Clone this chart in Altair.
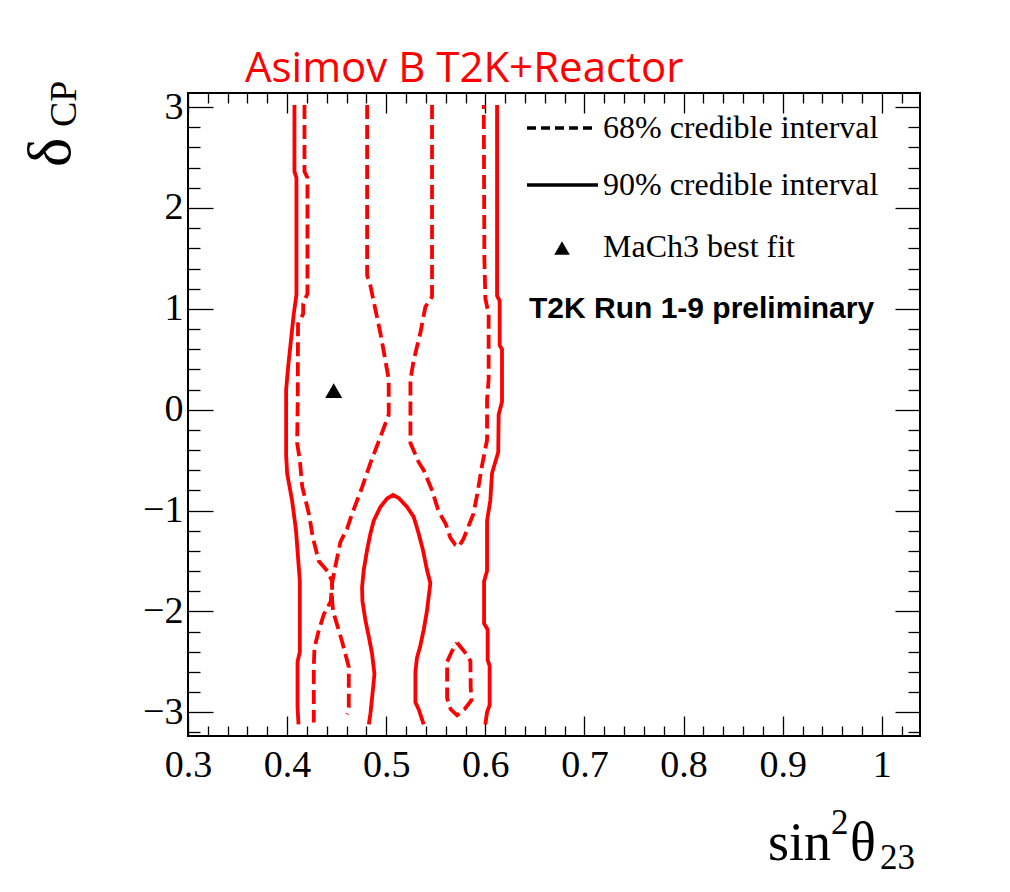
import altair as alt
import pandas as pd

# ---------------- data ----------------
# 90% credible interval contours (solid)
s90_left_x = [0.4074, 0.4074, 0.4094, 0.4094, 0.4067, 0.4040, 0.4013, 0.3990, 0.3990, 0.4000,
              0.4050, 0.4090, 0.4128, 0.4128, 0.4105, 0.4105, 0.4115]
s90_left_y = [3.02, 2.36, 2.30, 1.14, 0.95, 0.70, 0.45, 0.20, -0.45, -0.63,
              -0.90, -1.20, -1.70, -2.40, -2.50, -2.95, -3.12]

s90_right_x = [0.6118, 0.6118, 0.6144, 0.6144, 0.6168, 0.6168, 0.6134, 0.6130, 0.6067, 0.6050,
               0.6017, 0.6017, 0.5987, 0.5987, 0.6023, 0.6023, 0.6043, 0.6043, 0.6017, 0.6000]
s90_right_y = [3.02, 1.13, 1.08, 0.64, 0.60, 0.08, -0.05, -0.42, -0.63, -0.90,
               -1.10, -1.60, -1.70, -2.12, -2.18, -2.48, -2.54, -2.93, -3.00, -3.12]

s90_island_x = [0.4824, 0.4841, 0.4868, 0.4881, 0.4857, 0.4824, 0.4790, 0.4760, 0.4756, 0.4773,
                0.4807, 0.4840, 0.4874, 0.4941, 0.5009, 0.5069, 0.5126, 0.5210, 0.5277, 0.5327,
                0.5371, 0.5412, 0.5445, 0.5410, 0.5378, 0.5344, 0.5310, 0.5294, 0.5294, 0.5327,
                0.5378]
s90_island_y = [-3.12, -3.01, -2.75, -2.62, -2.42, -2.25, -2.09, -1.90, -1.76, -1.59,
                -1.39, -1.23, -1.10, -0.964, -0.881, -0.845, -0.875, -0.964, -1.063, -1.228,
                -1.394, -1.592, -1.72, -2.00, -2.18, -2.34, -2.46, -2.60, -2.90, -2.97,
                -3.12]

# 68% credible interval contours (dashed)
d68_a_x = [0.4175, 0.4175, 0.4205, 0.4205, 0.4162, 0.4162, 0.4110, 0.4107, 0.4101, 0.4128,
           0.4152, 0.4219, 0.4260, 0.4319, 0.4407, 0.4454, 0.4454, 0.4464, 0.4555, 0.4622,
           0.4622, 0.4605]
d68_a_y = [3.02, 2.36, 2.30, 1.15, 1.05, 0.95, 0.85, 0.10, -0.33, -0.50,
           -0.76, -1.03, -1.27, -1.50, -1.60, -1.70, -1.89, -2.00, -2.30, -2.55,
           -2.95, -3.02]

d68_b_x = [0.4807, 0.4807, 0.4840, 0.4891, 0.4941, 0.4991, 0.5025, 0.5025, 0.4941, 0.4840,
           0.4756, 0.4656, 0.4605, 0.4538, 0.4487, 0.4454, 0.4440, 0.4370, 0.4319, 0.4276,
           0.4269, 0.4269]
d68_b_y = [3.02, 1.33, 1.23, 0.99, 0.76, 0.49, 0.30, -0.05, -0.27, -0.53,
           -0.77, -1.03, -1.18, -1.31, -1.55, -1.72, -1.90, -2.03, -2.19, -2.36,
           -2.55, -3.10]

d68_c_x = [0.5462, 0.5462, 0.5395, 0.5344, 0.5277, 0.5244, 0.5244, 0.5327, 0.5378, 0.5462,
           0.5529, 0.5600, 0.5647, 0.5697, 0.5730, 0.5780, 0.5880, 0.5916, 0.5967, 0.6017,
           0.6017, 0.6033, 0.6033, 0.6000, 0.5990, 0.5984]
d68_c_y = [3.02, 1.12, 1.02, 0.76, 0.49, 0.30, -0.33, -0.52, -0.60, -0.80,
           -1.01, -1.13, -1.27, -1.34, -1.36, -1.28, -1.03, -0.85, -0.55, -0.30,
           0.10, 0.30, 0.95, 1.10, 1.50, 3.02]

d68_d_x = [0.5715, 0.5790, 0.5849, 0.5852, 0.5860, 0.5790, 0.5715, 0.5650, 0.5614, 0.5614,
           0.5660, 0.5715]
d68_d_y = [-2.31, -2.40, -2.49, -2.75, -2.88, -2.97, -3.03, -2.97, -2.86, -2.50,
           -2.40, -2.31]

best_fit_x = [0.447]
best_fit_y = [0.19]

# axis ticks / labels
x_label_values = [0.3, 0.4, 0.5, 0.6, 0.7, 0.8, 0.9, 1.0]
y_label_values = [-3, -2, -1, 0, 1, 2, 3]
x_tick_values = [round(0.30 + 0.02 * i, 2) for i in range(37)]
y_tick_values = [round(-3.2 + 0.2 * i, 1) for i in range(32)]

X_DOMAIN = [0.3, 1.0385]
Y_DOMAIN = [-3.235, 3.14]

# ---------------- layout ----------------
W, H = 732, 643
PAD = {"left": 180, "top": 85, "right": 70, "bottom": 140}
RED = "#ff0000"
SERIF = "Liberation Serif"


def paths_df(paths):
    rows = []
    for pid, (xs, ys) in enumerate(paths):
        for i, (x, y) in enumerate(zip(xs, ys)):
            rows.append({"pid": pid, "i": i, "x": x, "y": y})
    return pd.DataFrame(rows)


df90 = paths_df([(s90_left_x, s90_left_y), (s90_right_x, s90_right_y),
                 (s90_island_x, s90_island_y)])
df68 = paths_df([(d68_a_x, d68_a_y), (d68_b_x, d68_b_y), (d68_c_x, d68_c_y),
                 (d68_d_x, d68_d_y)])
dfbf = pd.DataFrame({"x": best_fit_x, "y": best_fit_y})

xs = alt.Scale(domain=X_DOMAIN, nice=False, zero=False)
ys = alt.Scale(domain=Y_DOMAIN, nice=False, zero=False)

x_major = "abs(datum.value*10 - round(datum.value*10)) < 0.001"
y_major = "abs(datum.value - round(datum.value)) < 0.001"


def tick_axis(orient, offset, values, test, big, small):
    return alt.Axis(orient=orient, offset=offset, values=values, labels=False,
                    domain=False, grid=False, ticks=True,
                    tickSize={"condition": {"test": test, "value": big}, "value": small},
                    tickColor="black", tickWidth=1.3, title="")


ax_x_labels = alt.Axis(orient="bottom", values=x_label_values,
                       labelExpr="datum.value == 1 ? '1' : format(datum.value, '.1f')",
                       ticks=False, domain=False, grid=False, labelFont=SERIF,
                       labelFontSize=38, labelColor="black", labelPadding=10,
                       labelFlush=False, labelOverlap=False, title="")
ax_y_labels = alt.Axis(orient="left", values=y_label_values, format="d",
                       ticks=False, domain=False, grid=False, labelFont=SERIF,
                       labelFontSize=38, labelColor="black", labelPadding=5,
                       labelFlush=False, labelOverlap=False, title="")

l90 = alt.Chart(df90).mark_line(color=RED, strokeWidth=3.8).encode(
    x=alt.X("x:Q", scale=xs, axis=ax_x_labels),
    y=alt.Y("y:Q", scale=ys, axis=ax_y_labels),
    detail="pid:N",
    order="i:Q",
)

l68 = alt.Chart(df68).mark_line(color=RED, strokeWidth=3.8, strokeDash=[14, 6]).encode(
    x=alt.X("x:Q", scale=xs, axis=tick_axis("top", -H, x_tick_values, x_major, 20, 10)),
    y=alt.Y("y:Q", scale=ys, axis=tick_axis("right", -W, y_tick_values, y_major, 25, 12)),
    detail="pid:N",
    order="i:Q",
)

lbf = alt.Chart(dfbf).mark_point(shape="triangle-up", filled=True, color="black",
                                 opacity=1, size=290).encode(
    x=alt.X("x:Q", scale=xs, axis=tick_axis("bottom", -H, x_tick_values, x_major, 20, 10)),
    y=alt.Y("y:Q", scale=ys, axis=tick_axis("left", -W, y_tick_values, y_major, 25, 12)),
)


def text_layer(txt, x, y, size, font, color="black", weight="normal", angle=0,
               align="left", baseline="alphabetic"):
    return alt.Chart(pd.DataFrame({"t": [txt]})).mark_text(
        font=font, fontSize=size, fontWeight=weight, color=color, angle=angle,
        align=align, baseline=baseline).encode(
        x=alt.value(x), y=alt.value(y), text="t:N")


one = pd.DataFrame({"a": [0]})
leg_dash = alt.Chart(one).mark_rule(color="black", strokeWidth=3.5, strokeDash=[9, 5]).encode(
    x=alt.value(339), x2=alt.value(409), y=alt.value(35))
leg_solid = alt.Chart(one).mark_rule(color="black", strokeWidth=3.5).encode(
    x=alt.value(339), x2=alt.value(410), y=alt.value(92))
leg_tri = alt.Chart(one).mark_point(shape="triangle-up", filled=True, color="black",
                                    opacity=1, size=240).encode(
    x=alt.value(374), y=alt.value(155))

annots = [
    text_layer("68% credible interval", 415, 45, 32, SERIF),
    text_layer("90% credible interval", 415, 102, 32, SERIF),
    text_layer("MaCh3 best fit", 415, 164, 32, SERIF),
    text_layer("T2K Run 1-9 preliminary", 341, 225, 30, "Liberation Sans", weight="bold"),
    text_layer("Asimov B T2K+Reactor", 57, -11, 42, "Open Sans", color=RED),
    # x-axis title: sin^2 theta_23
    text_layer("sin", 580, 767, 54, SERIF),
    text_layer("2", 643, 741, 35, SERIF),
    text_layer("θ", 662, 767, 54, SERIF),
    text_layer("23", 692, 776, 35, SERIF),
    # y-axis title: delta_CP (rotated)
    text_layer("δ", -118, 74, 62, SERIF, angle=270),
    text_layer("CP", -112, 34, 38, SERIF, angle=270),
]

chart = alt.layer(l90, l68, lbf, leg_dash, leg_solid, leg_tri, *annots).resolve_axis(
    x="independent", y="independent"
).properties(
    width=W, height=H, padding=PAD,
    autosize=alt.AutoSizeParams(type="none"),
).configure_view(stroke="black", strokeWidth=2)

chart.save("out.html", embed_options={"renderer": "svg", "actions": False})
